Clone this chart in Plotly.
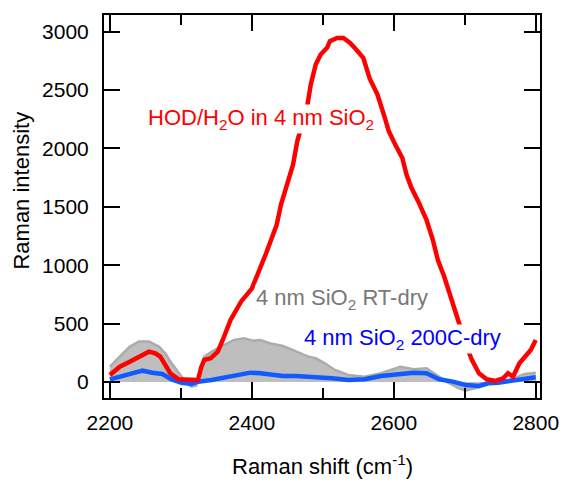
import plotly.graph_objects as go

# ---- data ----
red_x = [2200, 2214, 2228, 2241, 2255, 2264, 2271, 2278, 2285, 2297, 2310, 2319, 2324, 2329, 2333,
         2342, 2352, 2359, 2366, 2370, 2385, 2400, 2420, 2435, 2441, 2451, 2458, 2464, 2478, 2483,
         2490, 2497, 2506, 2510, 2520, 2529, 2538, 2547, 2557, 2566, 2577, 2586, 2593, 2602, 2612,
         2618, 2625, 2635, 2646, 2655, 2662, 2671, 2678, 2685, 2692, 2701, 2710, 2720, 2731, 2743,
         2754, 2761, 2768, 2777, 2786, 2793, 2800]
red_y = [60, 131, 174, 217, 260, 246, 217, 146, 75, 23, 17, 12, 17, 131, 189,
         203, 260, 360, 460, 532, 690, 800, 1100, 1346, 1518, 1718, 1861, 2061, 2361, 2547,
         2719, 2805, 2862, 2919, 2947, 2947, 2905, 2847, 2776, 2600, 2461, 2290, 2147, 2033, 1918,
         1775, 1661, 1540, 1389, 1218, 1046, 903, 761, 617, 503, 332, 189, 75, 23, 9,
         32, 75, 46, 160, 217, 274, 360]

blue_x = [2200, 2214, 2232, 2246, 2260, 2274, 2287, 2301, 2315, 2324, 2343, 2361, 2379, 2398, 2412,
          2430, 2444, 2462, 2480, 2499, 2513, 2536, 2559, 2582, 2605, 2628, 2646, 2664, 2683, 2701,
          2720, 2733, 2747, 2766, 2784, 2800]
blue_y = [23, 46, 75, 97, 80, 69, 23, -6, -17, 3, 17, 40, 60, 80, 75,
          60, 51, 51, 46, 40, 32, 17, 23, 51, 69, 80, 75, 23, 3, -26,
          -34, -11, -6, 9, 23, 40]

gray_x = [2200, 2214, 2228, 2241, 2255, 2269, 2278, 2287, 2299, 2308, 2315, 2322, 2328, 2333, 2347,
          2361, 2375, 2389, 2402, 2412, 2425, 2444, 2462, 2480, 2490, 2503, 2517, 2536, 2559, 2582,
          2609, 2628, 2646, 2660, 2674, 2692, 2701, 2720, 2743, 2766, 2784, 2800]
gray_y = [131, 217, 303, 346, 346, 303, 246, 160, 60, -10, -40, -30, 120, 217, 274,
          317, 360, 375, 354, 360, 332, 309, 260, 217, 203, 160, 103, 60, 46, 75,
          131, 109, 117, 60, 3, -54, -74, -46, 3, 23, 69, 80]

x_ticks = [2200, 2400, 2600, 2800]
y_ticks = [0, 500, 1000, 1500, 2000, 2500, 3000]

FONT = "Liberation Sans, Arial, Helvetica, sans-serif"
FS_TICK = 21
FS = 22

fig = go.Figure()
fig.add_trace(go.Scatter(x=gray_x, y=gray_y, mode="lines", fill="tozeroy",
                         fillcolor="rgb(190,190,190)",
                         line=dict(color="rgb(172,172,172)", width=2.5),
                         name="4 nm SiO2 RT-dry", showlegend=False))
fig.add_trace(go.Scatter(x=blue_x, y=blue_y, mode="lines",
                         line=dict(color="rgb(16,90,255)", width=4.5),
                         name="4 nm SiO2 200C-dry", showlegend=False))
fig.add_trace(go.Scatter(x=red_x, y=red_y, mode="lines",
                         line=dict(color="rgb(255,0,0)", width=4.5),
                         name="HOD/H2O in 4 nm SiO2", showlegend=False))

axis_common = dict(showline=True, linewidth=2, linecolor="black", mirror="ticks",
                   ticks="inside", ticklen=16, tickwidth=2, tickcolor="black",
                   showgrid=False, zeroline=False,
                   tickfont=dict(family=FONT, size=FS_TICK, color="black"))

fig.update_xaxes(range=[2191.7, 2806], tickvals=x_ticks, ticklabelstandoff=5,
                 minor=dict(dtick=100, tick0=2200, ticks="inside", ticklen=10,
                            tickwidth=2, tickcolor="black", showgrid=False),
                 **axis_common)
fig.update_yaxes(range=[-137, 3143], tickvals=y_ticks, ticklabelstandoff=9, **axis_common)

ann = [
    dict(text="HOD/H<sub>2</sub>O in 4 nm SiO<sub>2</sub>", x=2252, y=2256, xref="x", yref="y",
         xanchor="left", yanchor="middle", font=dict(family=FONT, size=FS, color="rgb(255,0,0)")),
    dict(text="4 nm SiO<sub>2</sub> RT-dry", x=2404, y=712, xref="x", yref="y",
         xanchor="left", yanchor="middle", font=dict(family=FONT, size=FS, color="rgb(120,120,120)")),
    dict(text="4 nm SiO<sub>2</sub> 200C-dry", x=2472, y=369, xref="x", yref="y",
         xanchor="left", yanchor="middle", font=dict(family=FONT, size=FS, color="rgb(0,0,255)")),
    dict(text="Raman intensity", x=-0.19, y=0.542, xref="paper", yref="paper", textangle=-90,
         xanchor="center", yanchor="middle", font=dict(family=FONT, size=FS, color="black")),
    dict(text="Raman shift (cm<sup>-1</sup>)", x=0.502, y=-0.2167, xref="paper", yref="paper",
         xanchor="center", yanchor="bottom", font=dict(family=FONT, size=FS, color="black")),
]
for a in ann:
    a.update(showarrow=False)
    if a["xref"] == "x":
        a.update(bgcolor="white", borderpad=0)

fig.update_layout(width=571, height=482, margin=dict(l=104, r=21, t=15, b=84),
                  plot_bgcolor="white", paper_bgcolor="white", annotations=ann,
                  showlegend=False)

fig.write_html("out.html")
